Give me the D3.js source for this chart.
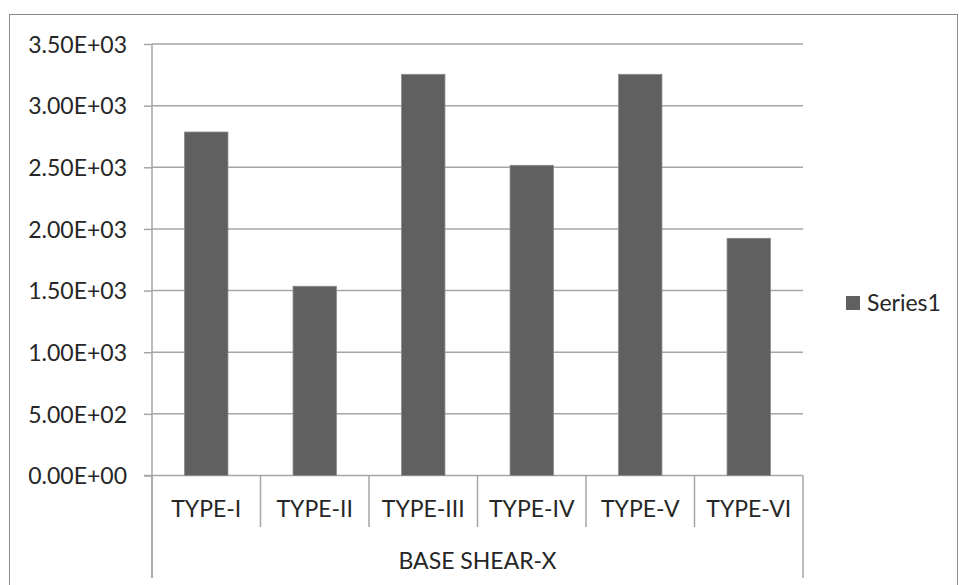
<!DOCTYPE html>
<html>
<head>
<meta charset="utf-8">
<script src="https://cdn.jsdelivr.net/npm/d3@7"></script>
<style>
  html, body { margin: 0; padding: 0; background: #fff; }
  svg { display: block; }
  text { font-family: Lato, "Open Sans", sans-serif; fill: #262626; }
</style>
</head>
<body>
<svg id="chart" width="959" height="585"></svg>
<script>
const categories = ["TYPE-I", "TYPE-II", "TYPE-III", "TYPE-IV", "TYPE-V", "TYPE-VI"];
const series1 = [2786, 1535, 3254, 2516, 3254, 1924];
const yTicks = [0, 500, 1000, 1500, 2000, 2500, 3000, 3500];
const groupLabel = "BASE SHEAR-X";
const seriesName = "Series1";

const svg = d3.select("#chart");
const plot = { left: 152, right: 803, top: 44, bottom: 475.5 };
const FS = 23;

const x = d3.scaleBand().domain(categories).range([plot.left, plot.right]).paddingInner(0.6).paddingOuter(0.3);
const xb = d3.scaleBand().domain(categories).range([plot.left, plot.right]).padding(0);
const y = d3.scaleLinear().domain([0, 3500]).range([plot.bottom, plot.top]);

const gridColor = "#a6a6a6";

// outer chart border
svg.append("rect")
  .attr("x", 9.5).attr("y", 14.5)
  .attr("width", 948).attr("height", 600)
  .attr("fill", "none").attr("stroke", "#8c8c8c").attr("stroke-width", 1);

// gridlines
svg.append("g").selectAll("line")
  .data(yTicks.filter(d => d > 0))
  .join("line")
  .attr("x1", plot.left).attr("x2", plot.right)
  .attr("y1", d => y(d)).attr("y2", d => y(d))
  .attr("stroke", gridColor).attr("stroke-width", 1.5);

// y axis
const yAxis = d3.axisLeft(y).tickValues(yTicks).tickSize(8).tickPadding(17)
  .tickFormat(d => {
    const s = d3.format(".2e")(d);
    const [m, e] = s.split("e");
    return m + "E" + e[0] + e.slice(1).padStart(2, "0");
  });
const gy = svg.append("g").attr("transform", `translate(${plot.left},0)`).call(yAxis);
gy.select(".domain").remove();
gy.selectAll(".tick line").attr("stroke", gridColor).attr("stroke-width", 1.5);
gy.selectAll(".tick text").attr("font-size", FS).attr("font-family", "Lato, 'Open Sans', sans-serif").attr("fill", "#262626").attr("dy", "0.36em");

// y axis line
svg.append("line")
  .attr("x1", plot.left).attr("x2", plot.left)
  .attr("y1", plot.top).attr("y2", 578)
  .attr("stroke", gridColor).attr("stroke-width", 1.5);

// x axis baseline
svg.append("line")
  .attr("x1", plot.left - 8).attr("x2", plot.right)
  .attr("y1", y(0)).attr("y2", y(0))
  .attr("stroke", gridColor).attr("stroke-width", 1.5);

// category separators
const seps = categories.map(c => xb(c)).concat([xb(categories[categories.length - 1]) + xb.bandwidth()]);
svg.append("g").selectAll("line")
  .data(seps)
  .join("line")
  .attr("x1", d => d).attr("x2", d => d)
  .attr("y1", y(0))
  .attr("y2", (d, i) => (i === 0 || i === seps.length - 1) ? 578 : 527)
  .attr("stroke", gridColor).attr("stroke-width", 1.5);

// bars
svg.append("g").selectAll("rect")
  .data(series1)
  .join("rect")
  .attr("x", (d, i) => x(categories[i]))
  .attr("y", d => y(d))
  .attr("width", x.bandwidth())
  .attr("height", d => y(0) - y(d))
  .attr("fill", "#606060")
  .attr("stroke", "#8a8a8a").attr("stroke-width", 0.8);

// category labels
svg.append("g").selectAll("text")
  .data(categories)
  .join("text")
  .attr("x", d => xb(d) + xb.bandwidth() / 2)
  .attr("y", 517)
  .attr("text-anchor", "middle")
  .attr("font-size", FS)
  .text(d => d);

// group label
svg.append("text")
  .attr("x", (plot.left + plot.right) / 2)
  .attr("y", 569)
  .attr("text-anchor", "middle")
  .attr("font-size", FS)
  .text(groupLabel);

// legend
const lg = svg.append("g");
lg.append("rect").attr("x", 846).attr("y", 296).attr("width", 14).attr("height", 14).attr("fill", "#606060");
lg.append("text").attr("x", 867).attr("y", 311).attr("font-size", FS).text(seriesName);
</script>
</body>
</html>
